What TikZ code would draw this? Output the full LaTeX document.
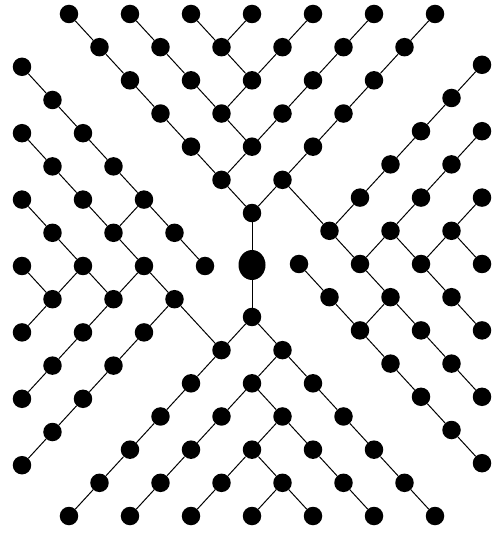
\documentclass[tikz,border=0pt]{standalone}
\usetikzlibrary{shapes.geometric}
\begin{document}
\begin{tikzpicture}[x=1pt,y=1pt,
  dot/.style={circle,fill=black,draw=none,inner sep=0pt,minimum size=18.5pt},
  hub/.style={ellipse,fill=black,draw=none,inner sep=0pt,minimum width=27pt,minimum height=30pt},
  link/.style={line width=1pt,black}]
\useasboundingbox (-252,-270) rectangle (239,265);
\node[hub] (C) at (0,0) {};
\foreach \pa/\pb/\ang in {T/R/0,B/L/180}{
  \begin{scope}[rotate=\ang]
    % upper (or lower) quadrant
    \foreach \i/\r in {-6/0,-4/0,-2/0,0/0,2/0,4/0,6/0,
                       -5/1,-3/1,-1/1,1/1,3/1,5/1,
                       -4/2,-2/2,0/2,2/2,4/2,
                       -3/3,-1/3,1/3,3/3,
                       -2/4,0/4,2/4,
                       -1/5,1/5,
                       0/6}
      \node[dot] (\pa\i r\r) at (30.5*\i, 251-33.17*\r) {};
    % right (or left) quadrant
    \foreach \a/\b in {6/-6,5/-5,4/-4,6/-4,3/-3,5/-3,2/-2,4/-2,6/-2,
                       1/-1,3/-1,5/-1,0/0,2/0,4/0,6/0,1/1,3/1,5/1,
                       2/2,4/2,6/2,3/3,5/3,4/4,6/4,5/5,6/6}
      \node[dot] (\pb\a r\b) at (47+30.5*\a, 1-33.2*\b) {};
  \end{scope}
  \foreach \ai/\ar/\bi/\br in {-6/0/-5/1,-5/1/-4/2,-4/2/-3/3,-3/3/-2/4,-2/4/-1/5,
      -4/0/-3/1,-3/1/-2/2,-2/2/-1/3,
      -2/0/-1/1,0/0/-1/1,-1/1/0/2,2/0/1/1,1/1/0/2,
      0/2/-1/3,-1/3/0/4,
      4/0/3/1,3/1/2/2,2/2/1/3,1/3/0/4,
      0/4/-1/5,-1/5/0/6,
      6/0/5/1,5/1/4/2,4/2/3/3,3/3/2/4,2/4/1/5,1/5/0/6}
    \draw[link] (\pa\ai r\ar) -- (\pa\bi r\br);
  \foreach \ai/\ar/\bi/\br in {6/-6/5/-5,5/-5/4/-4,4/-4/3/-3,3/-3/2/-2,2/-2/1/-1,
      6/-4/5/-3,5/-3/4/-2,4/-2/3/-1,
      6/-2/5/-1,
      1/-1/2/0,3/-1/2/0,3/-1/4/0,5/-1/4/0,5/-1/6/0,
      0/0/1/1,1/1/2/2,2/0/3/1,3/1/2/2,3/1/4/2,4/0/5/1,5/1/6/2,
      2/2/3/3,3/3/4/4,4/4/5/5,5/5/6/6,4/2/5/3,5/3/6/4}
    \draw[link] (\pb\ai r\ar) -- (\pb\bi r\br);
  \draw[link] (C) -- (\pa0r6);
  \draw[link] (\pa1r5) -- (\pb1r-1);
}
\end{tikzpicture}
\end{document}
